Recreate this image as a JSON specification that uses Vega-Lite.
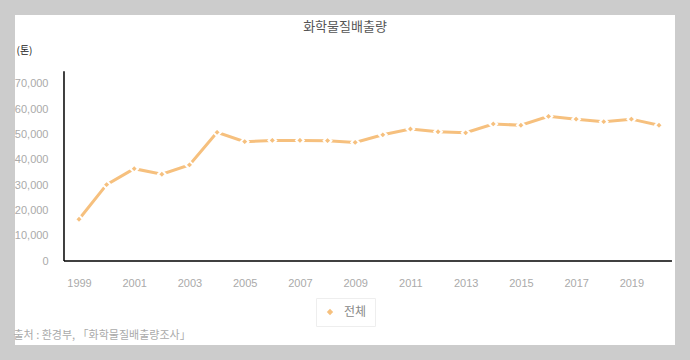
{
  "$schema": "https://vega.github.io/schema/vega-lite/v6.json",
  "width": 660,
  "height": 330,
  "autosize": {"type": "none"},
  "padding": {"left": 15, "top": 15, "right": 15, "bottom": 15},
  "background": "#cccccc",
  "config": {"view": {"fill": "white", "stroke": null}},
  "title": {
    "text": "화학물질배출량",
    "anchor": "middle",
    "frame": "group",
    "baseline": "top",
    "offset": -19,
    "fontSize": 13,
    "fontWeight": "normal",
    "color": "#555555",
    "font": "Noto Sans CJK KR"
  },
  "datasets": {
    "main": [
      {"year": 1999, "value": 16500, "series": "전체"},
      {"year": 2000, "value": 30200, "series": "전체"},
      {"year": 2001, "value": 36500, "series": "전체"},
      {"year": 2002, "value": 34300, "series": "전체"},
      {"year": 2003, "value": 38000, "series": "전체"},
      {"year": 2004, "value": 50900, "series": "전체"},
      {"year": 2005, "value": 47200, "series": "전체"},
      {"year": 2006, "value": 47700, "series": "전체"},
      {"year": 2007, "value": 47700, "series": "전체"},
      {"year": 2008, "value": 47600, "series": "전체"},
      {"year": 2009, "value": 46900, "series": "전체"},
      {"year": 2010, "value": 49900, "series": "전체"},
      {"year": 2011, "value": 52200, "series": "전체"},
      {"year": 2012, "value": 51100, "series": "전체"},
      {"year": 2013, "value": 50700, "series": "전체"},
      {"year": 2014, "value": 54200, "series": "전체"},
      {"year": 2015, "value": 53700, "series": "전체"},
      {"year": 2016, "value": 57200, "series": "전체"},
      {"year": 2017, "value": 56100, "series": "전체"},
      {"year": 2018, "value": 55100, "series": "전체"},
      {"year": 2019, "value": 56100, "series": "전체"},
      {"year": 2020, "value": 53700, "series": "전체"}
    ]
  },
  "encoding": {
    "x": {
      "field": "year",
      "type": "quantitative",
      "scale": {"domain": [1996.683, 2020.58], "nice": false, "zero": false},
      "axis": {
        "orient": "bottom",
        "offset": -84,
        "domain": false,
        "ticks": false,
        "tickSize": 0,
        "grid": false,
        "values": [1999, 2001, 2003, 2005, 2007, 2009, 2011, 2013, 2015, 2017, 2019],
        "format": "d",
        "labelColor": "#aaaaaa",
        "labelFont": "Liberation Sans",
        "labelFontSize": 11,
        "labelPadding": 16,
        "title": "출처 : 환경부, 「화학물질배출량조사」",
        "titleX": -2,
        "titleY": 74,
        "titleAlign": "left",
        "titleAnchor": "start",
        "titleBaseline": "middle",
        "titleFont": "Noto Sans CJK KR",
        "titleFontSize": 11,
        "titleFontWeight": "normal",
        "titleColor": "#aaaaaa"
      }
    },
    "y": {
      "field": "value",
      "type": "quantitative",
      "scale": {"domain": [-33220, 97288], "nice": false, "zero": false},
      "axis": {
        "orient": "left",
        "offset": -49,
        "domain": false,
        "ticks": false,
        "tickSize": 0,
        "grid": false,
        "values": [0, 10000, 20000, 30000, 40000, 50000, 60000, 70000],
        "format": ",d",
        "labelColor": "#aaaaaa",
        "labelFont": "Liberation Sans",
        "labelFontSize": 11,
        "labelPadding": 16,
        "title": "(톤)",
        "titleAngle": 0,
        "titleX": -48,
        "titleY": 35,
        "titleAlign": "left",
        "titleAnchor": "start",
        "titleBaseline": "middle",
        "titleFont": "Noto Sans CJK KR",
        "titleFontSize": 10,
        "titleFontWeight": "normal",
        "titleColor": "#222222"
      }
    }
  },
  "layer": [
    {
      "data": {"values": [{"year": 1998.457, "value": 0, "value2": 75000}]},
      "mark": {"type": "rule", "color": "#000000", "strokeWidth": 1.5},
      "encoding": {"y2": {"field": "value2"}}
    },
    {
      "data": {"values": [{"year": 1998.457, "year2": 2020.47, "value": 0}]},
      "mark": {"type": "rule", "color": "#000000", "strokeWidth": 1.5},
      "encoding": {"x2": {"field": "year2"}}
    },
    {
      "data": {"name": "main"},
      "mark": {"type": "line", "strokeWidth": 3},
      "encoding": {
        "color": {
          "field": "series",
          "type": "nominal",
          "scale": {"range": ["#f6c07e"]},
          "legend": {
            "orient": "none",
            "legendX": 301,
            "legendY": 283,
            "direction": "horizontal",
            "title": null,
            "strokeColor": "#eeeeee",
            "padding": 8,
            "symbolType": "diamond",
            "symbolSize": 40,
            "symbolStrokeWidth": 0,
            "labelFont": "Noto Sans CJK KR",
            "labelFontSize": 12,
            "labelColor": "#888888",
            "labelOffset": 8
          }
        }
      }
    },
    {
      "data": {"name": "main"},
      "mark": {"type": "point", "shape": "diamond", "filled": true, "opacity": 1, "size": 60, "stroke": "white", "strokeWidth": 2},
      "encoding": {
        "color": {
          "field": "series",
          "type": "nominal",
          "scale": {"range": ["#f6c07e"]},
          "legend": {
            "orient": "none",
            "legendX": 301,
            "legendY": 283,
            "direction": "horizontal",
            "title": null,
            "strokeColor": "#eeeeee",
            "padding": 8,
            "symbolType": "diamond",
            "symbolSize": 40,
            "symbolStrokeWidth": 0,
            "labelFont": "Noto Sans CJK KR",
            "labelFontSize": 12,
            "labelColor": "#888888",
            "labelOffset": 8
          }
        }
      }
    }
  ]
}
